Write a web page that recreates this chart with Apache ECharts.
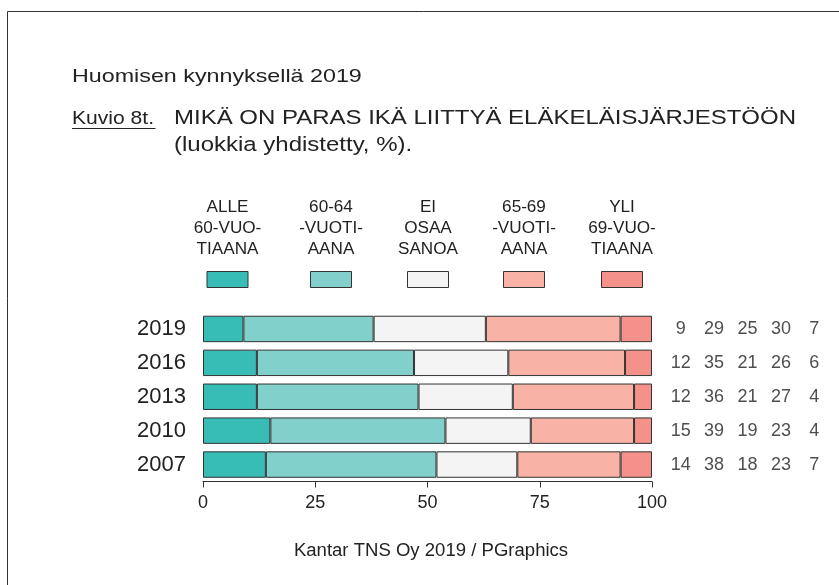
<!DOCTYPE html>
<html>
<head>
<meta charset="utf-8">
<script src="https://cdn.jsdelivr.net/npm/echarts@6/dist/echarts.min.js"></script>
<style>
  html, body { margin: 0; padding: 0; background: #fff; }
  #main { width: 839px; height: 585px; }
</style>
</head>
<body>
<div id="main"></div>
<script>
// vuodet ylhäältä alas
var years = ['2019', '2016', '2013', '2010', '2007'];
// luokat (legendan tekstit)
var groups = ['ALLE\n60-VUO-\nTIAANA', '60-64\n-VUOTI-\nAANA', 'EI\nOSAA\nSANOA', '65-69\n-VUOTI-\nAANA', 'YLI\n69-VUO-\nTIAANA'];
var colors = ['#37bdb6', '#81d0cb', '#f4f4f4', '#f8b2a6', '#f4918a'];
// arvot per luokka, järjestyksessä years
var alle60 = [9, 12, 12, 15, 14];
var v6064 = [29, 35, 36, 39, 38];
var eos = [25, 21, 21, 19, 18];
var v6569 = [30, 26, 27, 23, 23];
var yli69 = [7, 6, 4, 4, 7];
var xTicks = [0, 25, 50, 75, 100];

var values = [alle60, v6064, eos, v6569, yli69];
var font = 'Liberation Sans, Arial, Helvetica, sans-serif';

var myChart = echarts.init(document.getElementById('main'));

var series = values.map(function (arr, i) {
    return {
        type: 'bar',
        name: groups[i],
        stack: 'all',
        xAxisIndex: 0,
        yAxisIndex: 0,
        barWidth: '78%',
        data: arr,
        itemStyle: { color: colors[i], borderColor: '#333', borderWidth: 1 },
        silent: true
    };
});

// numerot oikealla
var numData = [];
values.forEach(function (arr, i) {
    arr.forEach(function (v, j) {
        numData.push([i, j, v]);
    });
});
series.push({
    type: 'scatter',
    xAxisIndex: 1,
    yAxisIndex: 1,
    symbolSize: 0,
    data: numData,
    label: {
        show: true,
        position: 'inside',
        formatter: function (p) { return p.value[2]; },
        color: '#222',
        fontSize: 18,
        fontFamily: font
    },
    silent: true
});

// tekstit hieman leveämpinä kuten alkuperäisessä
function txt(str, x, y, size, sx, align, extra) {
    var st = {
        text: str, x: 0, y: 0,
        align: align || 'left',
        verticalAlign: 'middle',
        fill: '#222',
        font: size + 'px ' + font
    };
    if (extra) { for (var k in extra) st[k] = extra[k]; }
    return { type: 'text', x: x, y: y, scaleX: sx, style: st, silent: true };
}

// legenda: teksti yläpuolella, laatikko alla
var legendX = [227.5, 331, 428, 524, 622];
var legendGraphics = [];
groups.forEach(function (g, i) {
    var t = txt(g, legendX[i], 196.5, 16, 1.07, 'center', { lineHeight: 21.3 });
    t.style.verticalAlign = 'top';
    legendGraphics.push(t);
    legendGraphics.push({
        type: 'rect',
        shape: { x: legendX[i] - 20.5, y: 271.5, width: 41, height: 16 },
        style: { fill: colors[i], stroke: '#333', lineWidth: 1 }
    });
});

var option = {
    animation: false,
    textStyle: { fontFamily: font },
    grid: [
        { left: 203, right: 187, top: 312, height: 169.5 },
        { left: 664, right: 8, top: 312, height: 169.5 }
    ],
    xAxis: [
        {
            gridIndex: 0,
            type: 'value',
            min: 0,
            max: 100,
            interval: 25,
            splitLine: { show: false },
            axisLine: { show: true, lineStyle: { color: '#333', width: 1 } },
            axisTick: { show: true, length: 6, lineStyle: { color: '#333' } },
            axisLabel: {
                color: '#222', fontSize: 18, margin: 13,
                formatter: function (v) { return xTicks.indexOf(v) >= 0 ? String(v) : ''; }
            }
        },
        {
            gridIndex: 1,
            type: 'category',
            data: [0, 1, 2, 3, 4],
            show: false
        }
    ],
    yAxis: [
        {
            gridIndex: 0,
            type: 'category',
            data: years,
            inverse: true,
            axisLine: { show: false },
            axisTick: { show: false },
            axisLabel: { color: '#222', fontSize: 22, margin: 17 }
        },
        {
            gridIndex: 1,
            type: 'category',
            data: years,
            inverse: true,
            show: false
        }
    ],
    graphic: [
        {
            type: 'polyline',
            shape: { points: [[7.5, 585], [7.5, 11.5], [839, 11.5]] },
            style: { stroke: '#333', lineWidth: 1, fill: null }
        },
        txt('Huomisen kynnyksellä 2019', 72, 76.5, 19, 1.225),
        txt('Kuvio 8t.', 72, 118.5, 18.5, 1.14),
        {
            type: 'line',
            shape: { x1: 72, y1: 128.5, x2: 155.5, y2: 128.5 },
            style: { stroke: '#222', lineWidth: 1.2 }
        },
        txt('MIKÄ ON PARAS IKÄ LIITTYÄ ELÄKELÄISJÄRJESTÖÖN', 174, 118, 20.5, 1.17),
        txt('(luokkia yhdistetty, %).', 174, 145, 20.5, 1.17),
        txt('Kantar TNS Oy 2019 / PGraphics', 431, 551, 17.5, 1.06, 'center')
    ].concat(legendGraphics),
    series: series
};
myChart.setOption(option);
</script>
</body>
</html>
